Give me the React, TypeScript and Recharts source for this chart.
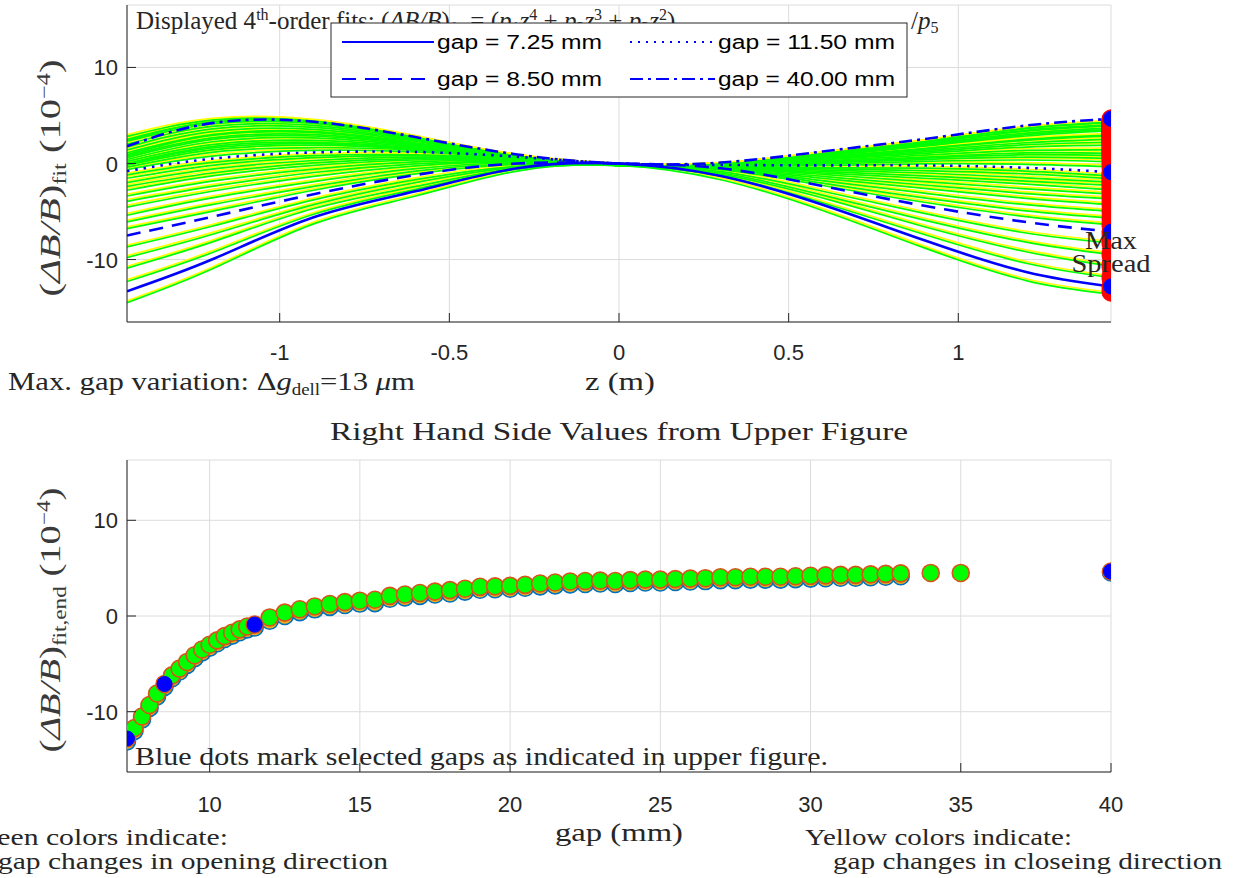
import React from "react";
import { ComposedChart, Line, Scatter, XAxis, YAxis, CartesianGrid } from "recharts";

// ---- upper plot: 4th-order fits sampled along z (m) ----
const zSamples = [-1.45, -1.2, -0.9, -0.6, -0.3, 0, 0.3, 0.6, 0.9, 1.2, 1.45];

const fitGap725 = [-13.3, -10.0, -5.6, -2.9, -0.5, 0, -1.3, -4.3, -8.0, -11.3, -12.8];
const fitGap850 = [-7.5, -5.55, -3.2, -1.2, 0.0, 0, -0.5, -2.35, -4.4, -6.1, -7.1];
const fitGap1150 = [-0.8, 0.5, 1.15, 1.2, 0.7, 0, -0.15, -0.2, -0.2, -0.45, -0.9];
const fitGap4000 = [1.8, 4.2, 4.35, 2.75, 0.94, 0, 0.1, 1.25, 2.55, 3.95, 4.65];

const familyGaps = [7.25, 7.5, 7.75, 8, 8.25, 8.75, 9, 9.25, 9.5, 9.75, 10, 10.25, 10.5, 10.75, 11, 11.25, 12, 12.5, 13, 13.5, 14, 15, 16, 17, 18, 19, 20, 22, 24, 26, 28, 30, 33, 35];
const familyFits = [
  [-14.3, -10.8, -6.1, -3.2, -0.6, 0, -1.5, -4.7, -8.6, -12.0, -13.4],
  [-12.1, -9.1, -5.1, -2.5, -0.4, 0, -1.1, -3.9, -7.2, -10.2, -11.7],
  [-10.7, -8.0, -4.5, -2.2, -0.3, 0, -0.95, -3.4, -6.4, -9.0, -10.5],
  [-9.6, -7.2, -4.1, -1.8, -0.2, 0, -0.8, -3.1, -5.7, -8.0, -9.3],
  [-8.5, -6.35, -3.6, -1.5, -0.1, 0, -0.65, -2.7, -5.0, -7.05, -8.1],
  [-6.6, -4.8, -2.6, -0.9, 0.1, 0, -0.45, -2.1, -3.85, -5.35, -6.2],
  [-5.9, -4.1, -2.2, -0.6, 0.15, 0, -0.4, -1.85, -3.4, -4.75, -5.5],
  [-5.2, -3.4, -1.7, -0.35, 0.25, 0, -0.4, -1.6, -2.9, -4.1, -4.8],
  [-4.35, -2.7, -1.15, -0.05, 0.35, 0, -0.35, -1.35, -2.4, -3.45, -4.1],
  [-3.75, -2.2, -0.75, 0.15, 0.4, 0, -0.3, -1.15, -2.05, -2.95, -3.5],
  [-3.2, -1.65, -0.4, 0.35, 0.45, 0, -0.27, -0.95, -1.7, -2.45, -3.0],
  [-2.6, -1.1, 0.0, 0.55, 0.5, 0, -0.25, -0.8, -1.35, -1.95, -2.55],
  [-2.2, -0.8, 0.25, 0.7, 0.55, 0, -0.22, -0.65, -1.1, -1.65, -2.1],
  [-1.8, -0.4, 0.5, 0.85, 0.6, 0, -0.2, -0.5, -0.8, -1.3, -1.75],
  [-1.35, 0.0, 0.8, 1.0, 0.65, 0, -0.18, -0.35, -0.55, -0.9, -1.4],
  [-1.0, 0.3, 1.0, 1.1, 0.7, 0, -0.16, -0.25, -0.3, -0.6, -1.1],
  [-0.45, 0.95, 1.55, 1.4, 0.73, 0, -0.12, -0.02, 0.15, 0.1, -0.15],
  [-0.2, 1.35, 1.85, 1.55, 0.75, 0, -0.1, 0.13, 0.4, 0.55, 0.35],
  [0.0, 1.6, 2.1, 1.65, 0.77, 0, -0.08, 0.25, 0.6, 0.85, 0.7],
  [0.1, 1.8, 2.25, 1.75, 0.78, 0, -0.06, 0.3, 0.75, 1.1, 1.0],
  [0.2, 1.95, 2.4, 1.8, 0.79, 0, -0.05, 0.37, 0.85, 1.3, 1.25],
  [0.4, 2.15, 2.6, 1.9, 0.8, 0, -0.04, 0.45, 1.05, 1.55, 1.6],
  [0.6, 2.45, 2.85, 2.0, 0.83, 0, -0.02, 0.57, 1.25, 1.9, 2.1],
  [0.8, 2.7, 3.05, 2.1, 0.84, 0, 0.0, 0.65, 1.4, 2.15, 2.4],
  [0.95, 2.85, 3.2, 2.2, 0.85, 0, 0.01, 0.73, 1.55, 2.35, 2.7],
  [1.1, 3.1, 3.4, 2.3, 0.87, 0, 0.03, 0.8, 1.7, 2.6, 3.05],
  [1.3, 3.2, 3.5, 2.35, 0.87, 0, 0.03, 0.85, 1.75, 2.7, 3.15],
  [1.6, 3.5, 3.75, 2.5, 0.9, 0, 0.05, 0.95, 2.0, 3.05, 3.6],
  [1.9, 3.8, 3.95, 2.6, 0.9, 0, 0.06, 1.0, 2.1, 3.2, 3.75],
  [2.2, 4.05, 4.15, 2.7, 0.92, 0, 0.07, 1.05, 2.2, 3.35, 3.9],
  [2.5, 4.3, 4.35, 2.8, 0.93, 0, 0.08, 1.1, 2.3, 3.55, 4.1],
  [2.7, 4.5, 4.5, 2.85, 0.93, 0, 0.08, 1.15, 2.35, 3.65, 4.2],
  [3.0, 4.7, 4.6, 2.9, 0.94, 0, 0.09, 1.2, 2.45, 3.85, 4.45],
  [2.6, 4.5, 4.5, 2.85, 0.94, 0, 0.09, 1.2, 2.45, 3.85, 4.5],
];

// ---- lower plot: right hand side values vs gap (mm) ----
const endGaps = [7.25, 7.5, 7.75, 8, 8.25, 8.5, 8.75, 9, 9.25, 9.5, 9.75, 10, 10.25, 10.5, 10.75, 11, 11.25, 11.5,
  12, 12.5, 13, 13.5, 14, 14.5, 15, 15.5, 16, 16.5, 17, 17.5, 18, 18.5, 19, 19.5, 20, 20.5, 21, 21.5, 22, 22.5,
  23, 23.5, 24, 24.5, 25, 25.5, 26, 26.5, 27, 27.5, 28, 28.5, 29, 29.5, 30, 30.5, 31, 31.5, 32, 32.5, 33, 34, 35, 40];
const endOpen = [-12.8, -11.7, -10.5, -9.3, -8.1, -7.1, -6.2, -5.5, -4.8, -4.1, -3.5, -3.0, -2.55, -2.1, -1.75, -1.4, -1.1, -0.9,
  -0.15, 0.35, 0.7, 1.0, 1.25, 1.45, 1.6, 1.7, 2.1, 2.25, 2.4, 2.55, 2.7, 2.85, 3.05, 3.1, 3.15, 3.25, 3.4, 3.5, 3.6, 3.65,
  3.7, 3.65, 3.75, 3.8, 3.8, 3.85, 3.9, 3.95, 4.05, 4.05, 4.1, 4.1, 4.1, 4.15, 4.2, 4.25, 4.3, 4.3, 4.35, 4.4, 4.45, 4.5, 4.5, 4.65];

const closeGaps = [7.25, 7.5, 7.75, 8, 8.25, 8.5, 8.75, 9, 9.25, 9.5, 9.75, 10, 10.25, 10.5, 10.75, 11, 11.25, 11.5,
  12, 12.5, 13, 13.5, 14, 14.5, 15, 15.5, 16, 16.5, 17, 17.5, 18, 18.5, 19, 19.5, 20, 20.5, 21, 21.5, 22, 22.5,
  23, 23.5, 24, 24.5, 25, 25.5, 26, 26.5, 27, 27.5, 28, 28.5, 29, 29.5, 30, 30.5, 31, 31.5, 32, 32.5, 33, 40];
const endClose = [-13.1, -12.0, -10.8, -9.6, -8.4, -7.4, -6.5, -5.8, -5.1, -4.4, -3.8, -3.3, -2.85, -2.4, -2.05, -1.7, -1.4, -1.2,
  -0.5, 0.0, 0.4, 0.7, 0.95, 1.15, 1.3, 1.35, 1.8, 1.95, 2.1, 2.25, 2.35, 2.55, 2.75, 2.8, 2.85, 2.95, 3.1, 3.2, 3.3, 3.35,
  3.4, 3.35, 3.45, 3.5, 3.5, 3.55, 3.6, 3.65, 3.75, 3.75, 3.8, 3.8, 3.8, 3.85, 3.9, 3.95, 4.0, 4.0, 4.05, 4.1, 4.15, 4.55];

const selectedGaps = [7.25, 8.5, 11.5, 40];
const selectedEnds = [-12.8, -7.1, -0.9, 4.65];

const zTicks = [-1, -0.5, 0, 0.5, 1];
const gapTicks = [10, 15, 20, 25, 30, 35, 40];
const valueTicks = [-10, 0, 10];

const Z_END = 1.45;

const topTable = zSamples.map((z, i) => {
  const row: Record<string, number> = {
    z,
    g725: fitGap725[i],
    g850: fitGap850[i],
    g1150: fitGap1150[i],
    g4000: fitGap4000[i],
  };
  familyFits.forEach((fit, k) => {
    row["f" + k] = fit[i];
  });
  return row;
});

const redEnds = [
  ...endOpen.map((v) => ({ z: Z_END, y: v })),
  ...endClose.map((v) => ({ z: Z_END, y: v })),
  { z: Z_END, y: familyFits[0][10] },
];
const topSelected = selectedEnds.map((v) => ({ z: Z_END, y: v }));

const openPts = endGaps.map((g, i) => ({ x: g, v: endOpen[i] }));
const closePts = closeGaps.map((g, i) => ({ x: g, v: endClose[i] }));
const selPts = selectedGaps.map((g, i) => ({ x: g, v: selectedEnds[i] }));

const serif = '"Liberation Serif", "DejaVu Serif", serif';
const sans = '"Liberation Sans", Arial, sans-serif';
const ink = "#262626";

const fmt = (v: number) => String(v);

const BottomTick = (dy: number) => (p: any) => (
  <g>
    <line x1={p.x} x2={p.x} y1={p.y} y2={p.y - 9} stroke={ink} />
    <text x={p.x} y={p.y + dy} textAnchor="middle" fontFamily={sans} fontSize={22} fill={ink}>
      {fmt(p.payload.value)}
    </text>
  </g>
);
const LeftTick = (p: any) => (
  <g>
    <line x1={p.x} x2={p.x + 9} y1={p.y} y2={p.y} stroke={ink} />
    <text x={p.x - 9} y={p.y + 8} textAnchor="end" fontFamily={sans} fontSize={22} fill={ink}>
      {fmt(p.payload.value)}
    </text>
  </g>
);
const TopTick = (p: any) => <line x1={p.x} x2={p.x} y1={p.y} y2={p.y + 9} stroke={ink} />;
const RightTick = (p: any) => <line x1={p.x} x2={p.x - 9} y1={p.y} y2={p.y} stroke={ink} />;

const dot = (r: number, fill: string, stroke: string, sw: number) => (p: any) => (
  <circle cx={p.cx} cy={p.cy} r={r} fill={fill} stroke={stroke} strokeWidth={sw} />
);

const lineBase = { dot: false, activeDot: false, isAnimationActive: false, type: "natural" as const };

function UpperPlot() {
  return (
    <ComposedChart width={1243} height={400} data={topTable} margin={{ top: 5, right: 132, bottom: 38, left: 67 }}>
      <CartesianGrid stroke="#dcdcdc" strokeWidth={1} />
      <XAxis dataKey="z" type="number" domain={[-1.45, 1.45]} ticks={zTicks} interval={0} allowDataOverflow
        height={40} tickSize={0} tickMargin={0} axisLine={{ stroke: ink }} tickLine={false} tick={BottomTick(38)} />
      <XAxis xAxisId="top" orientation="top" dataKey="z" type="number" domain={[-1.45, 1.45]} ticks={zTicks} interval={0}
        allowDataOverflow height={0} tickSize={0} tickMargin={0} axisLine={{ stroke: ink }} tickLine={false} tick={TopTick} />
      <YAxis type="number" domain={[-16.5, 16.5]} ticks={valueTicks} interval={0} allowDataOverflow width={60}
        tickSize={0} tickMargin={0} axisLine={{ stroke: ink }} tickLine={false} tick={LeftTick} />
      <YAxis yAxisId="right" orientation="right" type="number" domain={[-16.5, 16.5]} ticks={valueTicks} interval={0}
        allowDataOverflow width={0} tickSize={0} tickMargin={0} axisLine={{ stroke: ink }} tickLine={false} tick={RightTick} />
      {familyFits.map((_, k) => (
        <Line key={"y" + k} {...lineBase} dataKey={"f" + k} stroke="#ffff00" strokeWidth={1.7} />
      ))}
      {familyFits.map((_, k) => (
        <Line key={"g" + k} {...lineBase} dataKey={"f" + k} stroke="#00ff00" strokeWidth={1.7}
          style={{ transform: "translateY(1.8px)" }} />
      ))}
      <Line {...lineBase} dataKey="g725" stroke="#0000ff" strokeWidth={2.6} />
      <Line {...lineBase} dataKey="g850" stroke="#0000ff" strokeWidth={2.6} strokeDasharray="14 9" />
      <Line {...lineBase} dataKey="g1150" stroke="#0000ff" strokeWidth={2.6} strokeDasharray="2.5 6" />
      <Line {...lineBase} dataKey="g4000" stroke="#0000ff" strokeWidth={2.6} strokeDasharray="13 5 3 5" />
      <Scatter data={redEnds} dataKey="y" isAnimationActive={false} shape={dot(9, "#ff0000", "#ff0000", 1)} />
      <Scatter data={topSelected} dataKey="y" isAnimationActive={false} shape={dot(7.5, "#0000ff", "#0000ff", 1)} />
    </ComposedChart>
  );
}

function LowerPlot() {
  return (
    <ComposedChart width={1243} height={400} margin={{ top: 20, right: 132, bottom: 28, left: 67 }}>
      <CartesianGrid stroke="#dcdcdc" strokeWidth={1} />
      <XAxis dataKey="x" type="number" domain={[7.25, 40]} ticks={gapTicks} interval={0} allowDataOverflow
        height={40} tickSize={0} tickMargin={0} axisLine={{ stroke: ink }} tickLine={false} tick={BottomTick(40)} />
      <XAxis xAxisId="top" orientation="top" dataKey="x" type="number" domain={[7.25, 40]} ticks={gapTicks} interval={0}
        allowDataOverflow height={0} tickSize={0} tickMargin={0} axisLine={{ stroke: ink }} tickLine={false} tick={TopTick} />
      <YAxis type="number" domain={[-16.3, 16.3]} ticks={valueTicks} interval={0} allowDataOverflow width={60}
        tickSize={0} tickMargin={0} axisLine={{ stroke: ink }} tickLine={false} tick={LeftTick} />
      <YAxis yAxisId="right" orientation="right" type="number" domain={[-16.3, 16.3]} ticks={valueTicks} interval={0}
        allowDataOverflow width={0} tickSize={0} tickMargin={0} axisLine={{ stroke: ink }} tickLine={false} tick={RightTick} />
      <Scatter data={closePts} dataKey="v" isAnimationActive={false} shape={dot(8.5, "#edb120", "#0072bd", 1.6)} />
      <Scatter data={openPts} dataKey="v" isAnimationActive={false} shape={dot(8.5, "#00ff00", "#d95319", 1.6)} />
      <Scatter data={selPts} dataKey="v" isAnimationActive={false} shape={dot(7.5, "#0000ff", "#0000ff", 1)} />
    </ComposedChart>
  );
}

function Annotations() {
  const t = { fontFamily: serif, fill: "#262626", lengthAdjust: "spacingAndGlyphs" };
  return (
    <svg width={1243} height={878} style={{ position: "absolute", left: 0, top: 0, pointerEvents: "none" }}>
      {/* fit formula, mostly hidden behind the legend */}
      <text x={136} y={29} fontSize={25} fontFamily={serif} fill="#262626">
        Displayed 4<tspan dy={-9} fontSize={16}>th</tspan>
        <tspan dy={9}>-order fits: (</tspan>
        <tspan fontStyle="italic">ΔB/B</tspan>)<tspan dy={5} fontSize={16}>fit</tspan>
        <tspan dy={-5}> = (</tspan>
        <tspan fontStyle="italic">p</tspan>
        <tspan dy={4} fontSize={16}>1</tspan>
        <tspan dy={-4} fontStyle="italic">z</tspan>
        <tspan dy={-9} fontSize={16}>4</tspan>
        <tspan dy={9}> + </tspan>
        <tspan fontStyle="italic">p</tspan>
        <tspan dy={4} fontSize={16}>2</tspan>
        <tspan dy={-4} fontStyle="italic">z</tspan>
        <tspan dy={-9} fontSize={16}>3</tspan>
        <tspan dy={9}> + </tspan>
        <tspan fontStyle="italic">p</tspan>
        <tspan dy={4} fontSize={16}>3</tspan>
        <tspan dy={-4} fontStyle="italic">z</tspan>
        <tspan dy={-9} fontSize={16}>2</tspan>
        <tspan dy={9}>)</tspan>
      </text>
      <text x={911} y={29} fontSize={25} fontFamily={serif} fill="#262626">
        /<tspan fontStyle="italic">p</tspan>
        <tspan dy={4} fontSize={16}>5</tspan>
      </text>

      {/* legend */}
      <rect x={331} y={23} width={576} height={74} fill="#fff" stroke={ink} strokeWidth={1} />
      <line x1={342} x2={434} y1={42} y2={42} stroke="#0000ff" strokeWidth={2} />
      <line x1={342} x2={434} y1={79} y2={79} stroke="#0000ff" strokeWidth={2} strokeDasharray="14 9" />
      <line x1={630} x2={715} y1={42} y2={42} stroke="#0000ff" strokeWidth={2} strokeDasharray="2 6" />
      <line x1={630} x2={715} y1={79} y2={79} stroke="#0000ff" strokeWidth={2} strokeDasharray="13 5 3 5" />
      <text x={437} y={49} fontFamily={sans} fontSize={20} fill="#000" textLength={165} lengthAdjust="spacingAndGlyphs">gap = 7.25 mm</text>
      <text x={437} y={86} fontFamily={sans} fontSize={20} fill="#000" textLength={165} lengthAdjust="spacingAndGlyphs">gap = 8.50 mm</text>
      <text x={718} y={49} fontFamily={sans} fontSize={20} fill="#000" textLength={177} lengthAdjust="spacingAndGlyphs">gap = 11.50 mm</text>
      <text x={718} y={86} fontFamily={sans} fontSize={20} fill="#000" textLength={177} lengthAdjust="spacingAndGlyphs">gap = 40.00 mm</text>

      <text x={1111} y={249} fontSize={25} textAnchor="middle" textLength={52} {...t}>Max</text>
      <text x={1111} y={272} fontSize={25} textAnchor="middle" textLength={79} {...t}>Spread</text>

      {/* axis labels */}
      <text transform="translate(60,178) rotate(-90)" fontSize={30} textAnchor="middle" textLength={237} {...t} fill="#3a3a3a">
        (<tspan fontStyle="italic">ΔB/B</tspan>)<tspan dy={6} fontSize={18}>fit</tspan>
        <tspan dy={-6}> (10</tspan>
        <tspan dy={-10} fontSize={18}>−4</tspan>
        <tspan dy={10}>)</tspan>
      </text>
      <text transform="translate(60,620) rotate(-90)" fontSize={30} textAnchor="middle" textLength={265} {...t} fill="#3a3a3a">
        (<tspan fontStyle="italic">ΔB/B</tspan>)<tspan dy={6} fontSize={18}>fit,end</tspan>
        <tspan dy={-6}> (10</tspan>
        <tspan dy={-10} fontSize={18}>−4</tspan>
        <tspan dy={10}>)</tspan>
      </text>
      <text x={620} y={390} fontSize={26} textAnchor="middle" textLength={70} {...t}>z (m)</text>
      <text x={8} y={390} fontSize={26} textLength={407} {...t}>
        Max. gap variation: Δ<tspan fontStyle="italic">g</tspan>
        <tspan dy={5} fontSize={16}>dell</tspan>
        <tspan dy={-5}>=13 </tspan>
        <tspan fontStyle="italic">μ</tspan>m
      </text>
      <text x={619} y={440} fontSize={26} textAnchor="middle" textLength={578} {...t}>
        Right Hand Side Values from Upper Figure
      </text>
      <text x={135} y={765} fontSize={26} textLength={693} {...t}>
        Blue dots mark selected gaps as indicated in upper figure.
      </text>
      <text x={619} y={841} fontSize={26} textAnchor="middle" textLength={128} {...t}>gap (mm)</text>
      <text x={228} y={845} fontSize={24} textAnchor="end" textLength={262} {...t}>Green colors indicate:</text>
      <text x={-2} y={869} fontSize={24} textLength={390} {...t}>gap changes in opening direction</text>
      <text x={805} y={845} fontSize={24} textLength={267} {...t}>Yellow colors indicate:</text>
      <text x={833} y={869} fontSize={24} textLength={389} {...t}>gap changes in closeing direction</text>
    </svg>
  );
}

export default function App() {
  return (
    <div style={{ position: "absolute", left: 0, top: 0, width: 1243, height: 878, background: "#fff", overflow: "hidden" }}>
      <div style={{ position: "absolute", left: 0, top: 0 }}>
        <UpperPlot />
      </div>
      <div style={{ position: "absolute", left: 0, top: 440 }}>
        <LowerPlot />
      </div>
      <Annotations />
    </div>
  );
}
